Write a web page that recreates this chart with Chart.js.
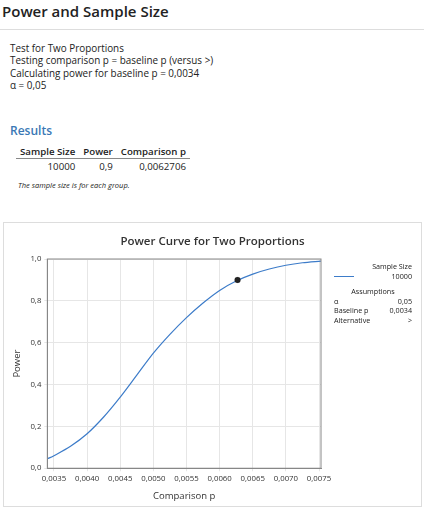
<!DOCTYPE html>
<html><head><meta charset="utf-8">
<script src="https://cdn.jsdelivr.net/npm/chart.js@4"></script>
<style>
body{margin:0;font-family:"Open Sans","Noto Sans",sans-serif;color:#222;width:424px;height:508px;overflow:hidden;position:relative;background:#fff}
.h{position:absolute;left:2px;top:1px;font-size:15px;font-weight:600}
.rule{position:absolute;left:0;right:0;top:29px;border-top:1px solid #ddd}
.info{position:absolute;left:10px;top:42px;font-size:9.9px;line-height:12.4px}
.res{position:absolute;left:10px;top:122px;font-size:12px;font-weight:600;color:#3a78b5}
table{position:absolute;left:16px;top:145px;font-size:9.7px;border-collapse:collapse}
th{font-weight:600;padding:0 4px;border-bottom:1px solid #888;text-align:right}
td{padding:1px 4px;text-align:right}
.note{position:absolute;left:18px;top:180px;font-size:7.5px;font-style:italic}
.box{position:absolute;left:3px;top:222px;width:417px;height:283px;border:1px solid #ddd}
.ttl{position:absolute;left:0;right:0;top:10px;text-align:center;font-size:11.5px;font-weight:600;color:#333}
.leg{position:absolute;left:334px;top:262px;font-size:7.2px;width:78px;line-height:9.6px}
</style></head><body>
<div class="h">Power and Sample Size</div>
<div class="rule"></div>
<div class="info">Test for Two Proportions<br>Testing comparison p = baseline p (versus &gt;)<br>Calculating power for baseline p = 0,0034<br>α = 0,05</div>
<div class="res">Results</div>
<table><tr><th>Sample Size</th><th>Power</th><th>Comparison p</th></tr>
<tr><td>10000</td><td>0,9</td><td>0,0062706</td></tr></table>
<div class="note">The sample size is for each group.</div>
<div class="box"><div class="ttl">Power Curve for Two Proportions</div><canvas id="c" width="417" height="283"></canvas></div>
<div class="leg">
<div style="text-align:right">Sample Size</div>
<div style="display:flex;align-items:center"><span style="display:inline-block;width:20px;border-top:1px solid #3d7cc9;margin-right:auto"></span>10000</div>
<div style="text-align:center;margin-top:6px">Assumptions</div>
<div style="display:flex;justify-content:space-between"><span>α</span><span>0,05</span></div>
<div style="display:flex;justify-content:space-between"><span>Baseline p</span><span>0,0034</span></div>
<div style="display:flex;justify-content:space-between"><span>Alternative</span><span>&gt;</span></div>
</div>
<script>
const compP = [0.0034,0.0035,0.00375,0.0040,0.00425,0.0045,0.00475,0.0050,0.00525,0.0055,0.00575,0.0060,0.00625,0.0065,0.00675,0.0070,0.00725,0.00753];
const power = [0.045,0.06,0.105,0.165,0.245,0.34,0.445,0.55,0.64,0.72,0.79,0.85,0.895,0.928,0.952,0.97,0.982,0.99];
const targetP = [0.0062706];
const targetPower = [0.9];
const xTicks = [0.0035,0.0040,0.0045,0.0050,0.0055,0.0060,0.0065,0.0070,0.0075];
const yTicks = [0,0.2,0.4,0.6,0.8,1.0];
const comma = (v, d) => v.toFixed(d).replace('.', ',');
new Chart(document.getElementById('c'), {
  type: 'scatter',
  data: { datasets: [
    { data: targetP.map((x, i) => ({x, y: targetPower[i]})), backgroundColor: '#222', pointRadius: 3 },
    { data: compP.map((x, i) => ({x, y: power[i]})), showLine: true, borderColor: '#3d7cc9', borderWidth: 1.2, pointRadius: 0, tension: 0.3 }
  ]},
  options: {
    responsive: false, animation: false,
    layout: { padding: { right: 100, top: 36, left: 4 } },
    plugins: { legend: { display: false }, tooltip: { enabled: false } },
    scales: {
      x: { type: 'linear', min: 0.0034, max: 0.00753,
        afterBuildTicks: a => { a.ticks = xTicks.map(v => ({value: v})); },
        ticks: { callback: v => comma(v, 4), font: { size: 7.8, family: 'Open Sans' }, color: '#333', maxRotation: 0 },
        grid: { color: '#e6e6e6', tickLength: 3 }, border: { color: '#888' },
        title: { display: true, text: 'Comparison p', color: '#333', font: { size: 9.5, family: 'Open Sans' } } },
      y: { min: 0, max: 1,
        afterBuildTicks: a => { a.ticks = yTicks.map(v => ({value: v})); },
        ticks: { callback: v => comma(v, 1), font: { size: 7.8, family: 'Open Sans' }, color: '#333' },
        grid: { color: '#e6e6e6', tickLength: 3 }, border: { color: '#888' },
        title: { display: true, text: 'Power', color: '#333', font: { size: 9.5, family: 'Open Sans' } } }
    }
  },
  plugins: [{ id: 'frame', afterDraw(c) { const a = c.chartArea, x = c.ctx; x.save(); x.strokeStyle = '#888'; x.strokeRect(a.left, a.top, a.right - a.left, a.bottom - a.top); x.restore(); } }]
});
</script>
</body></html>
